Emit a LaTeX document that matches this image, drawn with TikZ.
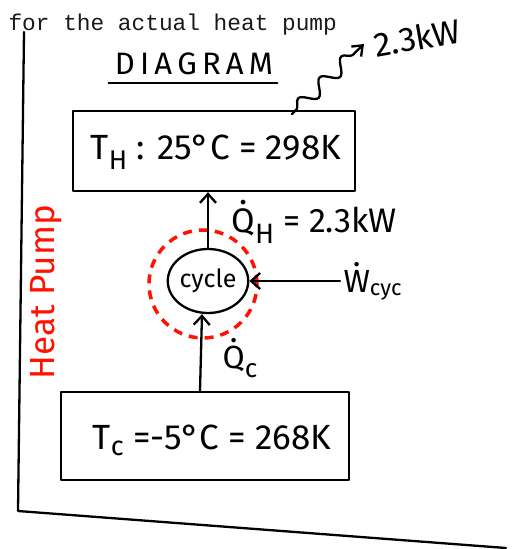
\documentclass[tikz,border=0pt]{standalone}
\usepackage{fontspec}
\setmainfont{Fira Sans}
\newfontfamily\typefont{Liberation Mono}
\usetikzlibrary{decorations.pathmorphing,arrows.meta,shapes.geometric}
\newcommand\lowsub[2]{\raisebox{-#1}{#2}}
\newcommand\dotted[1]{\leavevmode\setbox0\hbox{#1}\rlap{\hbox to\wd0{\hss\raise\dimexpr\ht0+0.12em\relax\hbox{.}\hss}}\box0}
\begin{document}
\begin{tikzpicture}[x=1pt,y=-1pt,
  hand/.style={line width=2.3pt,black,line join=round,line cap=round},
  tbox/.style={hand,draw,rectangle,inner sep=0pt},
  arr/.style={hand,-{Straight Barb[length=9pt,width=16pt,line width=2.3pt]}}]
\useasboundingbox (0,0) rectangle (513,549);
% typed heading
\node[anchor=base west,font=\typefont\fontsize{22.8}{23}\selectfont,text=black!90] (head) at (5,30) {for the actual heat pump};
% frame
\coordinate (ftop) at (24,32);
\coordinate (fcorner) at (18,511);
\coordinate (fend) at (506,548);
\draw[hand] (ftop) -- (fcorner) -- (fend);
% title
\node[font=\fontsize{31}{31}\selectfont,inner sep=0pt] (title) at (194,64) {D\,I\,A\,G\,R\,A\,M};
\draw[hand] ([xshift=-6pt,yshift=-8pt]title.south west) -- ([xshift=4pt,yshift=-8pt]title.south east);
% reservoirs
\node[tbox,minimum width=282pt,minimum height=80pt] (hot) at (214,151) {};
\node[font=\fontsize{35}{35}\selectfont] (hotlab) at (216,152) {T\lowsub{10pt}{\fontsize{27}{27}\selectfont H} : 25°C = 298K};
\node[tbox,minimum width=288pt,minimum height=88pt] (cold) at (205,436) {};
\node[font=\fontsize{35}{35}\selectfont] (coldlab) at (212,440) {T\lowsub{6pt}{\fontsize{27}{27}\selectfont c} =-5°C = 268K};
% cycle
\node[hand,draw,ellipse,minimum width=80pt,minimum height=64pt,inner sep=0pt,font=\fontsize{25}{25}\selectfont] (cyc) at (208,281) {cycle};
\node[circle,draw=red!85!orange,line width=3.5pt,dash pattern=on 9pt off 7pt,minimum size=108pt] (cv) at (203,284) {};
% heat flows
\draw[arr] (cyc.north) -- (cyc.north |- hot.south);
\node[anchor=west,font=\fontsize{34}{34}\selectfont] (qh) at (228,222) {\dotted{Q}\lowsub{11pt}{\fontsize{28}{28}\selectfont H} = 2.3kW};
\coordinate (cfoot) at (cold.north -| cyc.south);
\draw[arr] ([xshift=-8pt]cfoot) -- ([xshift=-6pt]cyc.south);
\node[font=\fontsize{32}{32}\selectfont] (qc) at (240,358) {\dotted{Q}\lowsub{9pt}{\fontsize{26}{26}\selectfont c}};
% work
\node[anchor=west,font=\fontsize{32}{32}\selectfont] (wlab) at (340,281) {\dotted{W}\lowsub{3pt}{\fontsize{22}{22}\selectfont cyc}};
\draw[arr] (wlab.west) -- (cyc.east);
% heat out
\coordinate (wout) at (292,114);
\coordinate (wtip) at (364,44);
\node[anchor=south west,rotate=10,font=\fontsize{34}{34}\selectfont,inner sep=0pt] (kw) at (376,58) {2.3kW};
\draw[hand,-{Straight Barb[length=9pt,width=14pt,line width=2.3pt]},decorate,decoration={snake,amplitude=7pt,segment length=30pt,pre length=6pt,post length=12pt}] (wout) -- (wtip);
% side label
\node[rotate=90,text=red!85!orange,font=\fontsize{35}{35}\selectfont] (hp) at (46,292) {Heat Pump};
\end{tikzpicture}
\end{document}
